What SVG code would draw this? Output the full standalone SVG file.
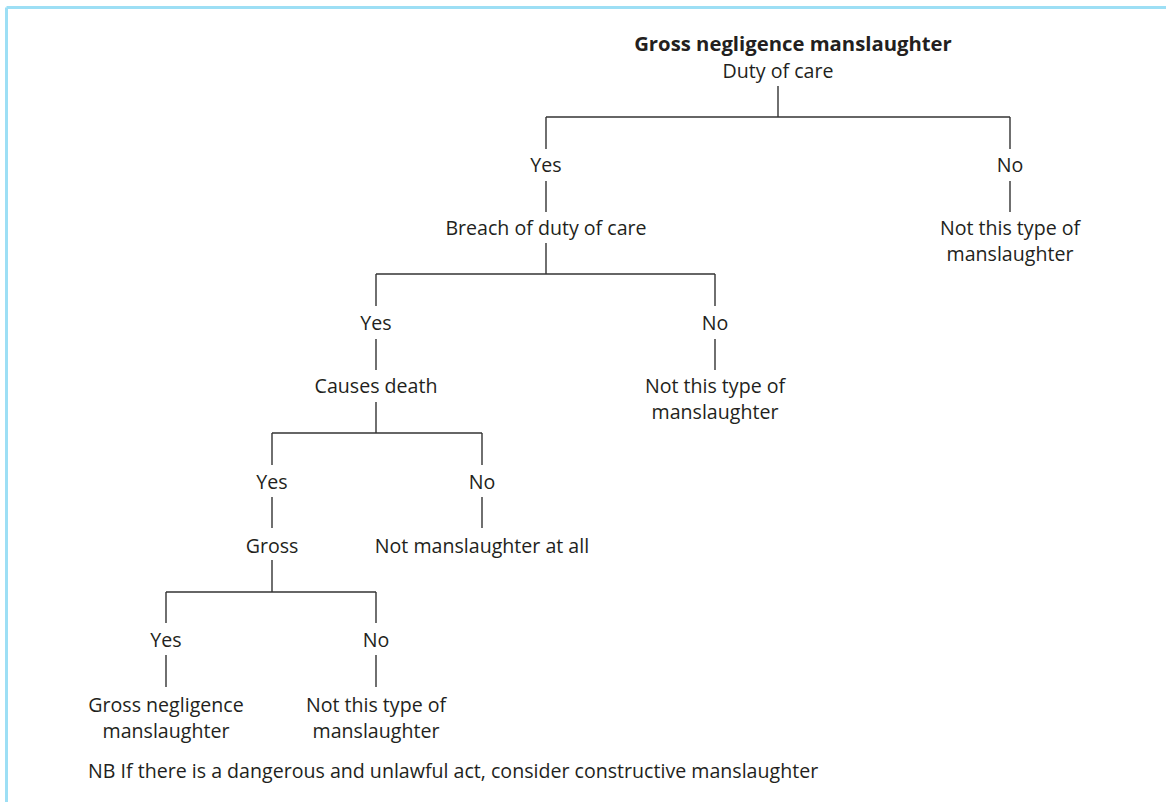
<svg xmlns="http://www.w3.org/2000/svg" width="1166" height="802" viewBox="0 0 1166 802">
<style>
.t{font-family:"Open Sans","Noto Sans",sans-serif;font-size:19.6px;fill:#231f20;text-anchor:middle}
.b{font-weight:700;font-size:20.3px}
.c line{stroke:#333;stroke-width:1.4}
</style>
<rect width="1166" height="802" fill="#fff"/>
<g id="frame" stroke="#9ddff5" stroke-width="3" fill="none">
<line x1="6.5" y1="7.5" x2="1166" y2="7.5"/>
<line x1="6.5" y1="7.5" x2="6.5" y2="802"/>
</g>
<g class="c" id="connectors">
<line x1="778" y1="86" x2="778" y2="117"/>
<line x1="546" y1="117" x2="1010" y2="117"/>
<line x1="546" y1="117" x2="546" y2="149"/>
<line x1="1010" y1="117" x2="1010" y2="149"/>
<line x1="546" y1="181" x2="546" y2="212"/>
<line x1="1010" y1="181" x2="1010" y2="212"/>
<line x1="546" y1="243" x2="546" y2="274"/>
<line x1="376" y1="274" x2="715" y2="274"/>
<line x1="376" y1="274" x2="376" y2="306"/>
<line x1="715" y1="274" x2="715" y2="306"/>
<line x1="376" y1="339" x2="376" y2="370"/>
<line x1="715" y1="339" x2="715" y2="370"/>
<line x1="376" y1="402" x2="376" y2="433"/>
<line x1="272" y1="433" x2="482" y2="433"/>
<line x1="272" y1="433" x2="272" y2="465"/>
<line x1="482" y1="433" x2="482" y2="465"/>
<line x1="272" y1="497" x2="272" y2="528"/>
<line x1="482" y1="497" x2="482" y2="528"/>
<line x1="272" y1="560" x2="272" y2="592"/>
<line x1="166" y1="592" x2="376" y2="592"/>
<line x1="166" y1="592" x2="166" y2="623"/>
<line x1="376" y1="592" x2="376" y2="623"/>
<line x1="166" y1="655" x2="166" y2="687"/>
<line x1="376" y1="655" x2="376" y2="687"/>
</g>
<g id="title"><text class="t b" x="793" y="51">Gross negligence manslaughter</text></g>
<g id="duty"><text class="t" x="778" y="78">Duty of care</text></g>
<g id="yes1"><text class="t" x="546" y="172">Yes</text></g>
<g id="no1"><text class="t" x="1010" y="172">No</text></g>
<g id="breach"><text class="t" x="546" y="235">Breach of duty of care</text></g>
<g id="notType1"><text class="t" x="1010" y="235">Not this type of</text><text class="t" x="1010" y="261">manslaughter</text></g>
<g id="yes2"><text class="t" x="376" y="330">Yes</text></g>
<g id="no2"><text class="t" x="715" y="330">No</text></g>
<g id="causes"><text class="t" x="376" y="393">Causes death</text></g>
<g id="notType2"><text class="t" x="715" y="393">Not this type of</text><text class="t" x="715" y="419">manslaughter</text></g>
<g id="yes3"><text class="t" x="272" y="489">Yes</text></g>
<g id="no3"><text class="t" x="482" y="489">No</text></g>
<g id="gross"><text class="t" x="272" y="553">Gross</text></g>
<g id="notMan"><text class="t" x="482" y="553">Not manslaughter at all</text></g>
<g id="yes4"><text class="t" x="166" y="647">Yes</text></g>
<g id="no4"><text class="t" x="376" y="647">No</text></g>
<g id="gnm"><text class="t" x="166" y="712">Gross negligence</text><text class="t" x="166" y="738">manslaughter</text></g>
<g id="notType3"><text class="t" x="376" y="712">Not this type of</text><text class="t" x="376" y="738">manslaughter</text></g>
<g id="note"><text class="t" x="88" y="778" style="text-anchor:start">NB If there is a dangerous and unlawful act, consider constructive manslaughter</text></g>
</svg>
